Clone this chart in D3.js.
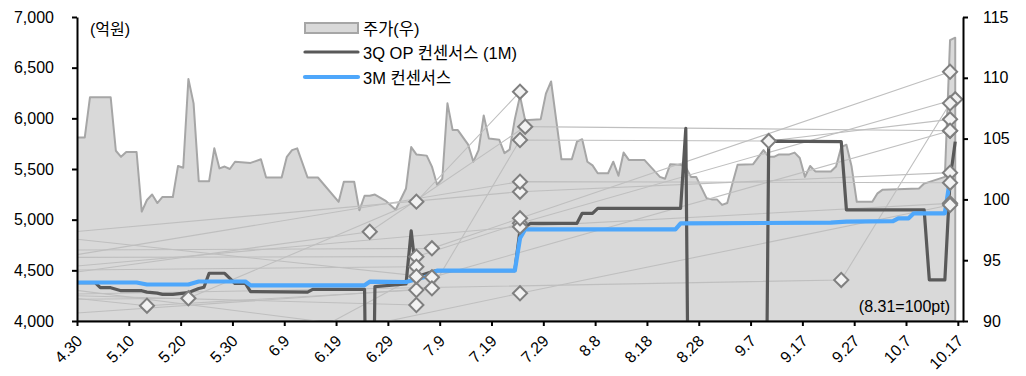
<!DOCTYPE html>
<html><head><meta charset="utf-8">
<script src="https://cdn.jsdelivr.net/npm/d3@7"></script>
<style>
html,body{margin:0;padding:0;background:#fff;}
svg text{font-family: Arial, "Liberation Sans", "Noto Sans CJK KR", sans-serif; fill:#000;}
</style></head><body>
<svg id="chart" width="1026" height="376"></svg>
<script>
// ---------------- data ----------------
const xTickLabels = ["4.30","5.10","5.20","5.30","6.9","6.19","6.29","7.9","7.19","7.29","8.8","8.18","8.28","9.7","9.17","9.27","10.7","10.17"];
const leftTicks = [4000,4500,5000,5500,6000,6500,7000];
const rightTicks = [90,95,100,105,110,115];
const legendLabels = ["주가(우)","3Q OP 컨센서스 (1M)","3M 컨센서스"];
const unitLabel = "(억원)";
const noteLabel = "(8.31=100pt)";

// stock price index (right axis)
const priceSeries = [["4.29",105.1],["4.30",105.1],["5.1",105.1],["5.2",108.4],["5.6",108.4],["5.7",104.0],["5.8",103.5],["5.9",103.9],["5.11",103.9],["5.12",99.0],["5.13",99.95],["5.14",100.4],["5.15",99.7],["5.16",100.2],["5.18",100.2],["5.19",102.75],["5.20",102.6],["5.21",109.9],["5.22",107.9],["5.23",101.5],["5.25",101.5],["5.26",104.2],["5.27",102.55],["5.28",102.7],["5.29",102.5],["5.30",103.1],["6.2",103.0],["6.4",103.3],["6.5",101.8],["6.8",101.8],["6.9",103.5],["6.10",104.05],["6.11",104.2],["6.13",101.8],["6.15",101.8],["6.19",99.8],["6.20",101.45],["6.22",101.45],["6.23",99.1],["6.24",100.3],["6.25",100.3],["6.26",100.4],["6.28",99.9],["6.30",99.15],["7.2",100.9],["7.3",104.3],["7.4",103.7],["7.6",103.6],["7.7",102.7],["7.8",101.2],["7.9",101.7],["7.10",107.9],["7.11",105.7],["7.12",105.7],["7.14",104.5],["7.15",103.1],["7.16",104.05],["7.17",106.9],["7.18",105.0],["7.20",104.9],["7.21",103.8],["7.22",104.1],["7.23",106.6],["7.24",108.5],["7.25",106.5],["7.28",106.6],["7.29",108.7],["7.30",109.7],["8.1",103.3],["8.3",103.3],["8.4",104.75],["8.5",104.95],["8.6",103.1],["8.7",102.8],["8.8",102.15],["8.10",102.15],["8.11",103.1],["8.12",101.95],["8.13",103.85],["8.14",103.25],["8.17",103.25],["8.20",101.85],["8.21",101.7],["8.22",102.9],["8.24",102.85],["8.25",102.65],["8.26",101.85],["8.27",101.85],["8.29",100.1],["8.30",100.0],["8.31",100.0],["9.1",99.55],["9.2",99.7],["9.3",101.3],["9.4",102.85],["9.7",102.9],["9.9",104.05],["9.10",103.5],["9.11",103.5],["9.12",103.7],["9.14",103.7],["9.15",103.85],["9.16",103.4],["9.17",101.85],["9.18",102.75],["9.19",102.3],["9.22",102.3],["9.23",102.7],["9.24",104.3],["9.25",104.5],["9.26",102.7],["9.27",99.8],["9.30",99.8],["10.1",100.5],["10.2",100.8],["10.9",100.9],["10.10",101.3],["10.14",101.85],["10.15",113.1],["10.16",113.3]];

// 3Q OP consensus (1M), 억원
const opSeries = [["4.29",4378],["5.3",4378],["5.4",4329],["5.6",4329],["5.8",4299],["5.12",4299],["5.13",4285],["5.15",4275],["5.16",4263],["5.18",4263],["5.21",4280],["5.22",4300],["5.23",4320],["5.24",4333],["5.25",4471],["5.28",4471],["5.29",4420],["5.30",4370],["6.1",4370],["6.2",4290],["6.13",4285],["6.14",4313],["6.24",4313],["6.25",0],["6.26",4340],["7.2",4365],["7.3",4890],["7.4",4437],["7.7",4487],["7.8",4497],["7.23",4497],["7.24",4900],["7.26",4964],["8.4",4964],["8.5",5063],["8.7",5063],["8.8",5112],["8.24",5112],["8.25",5900],["8.26",0],["9.9",0],["9.10",5776],["9.24",5770],["9.25",5096],["10.10",5096],["10.11",4405],["10.14",4405],["10.15",5392],["10.16",5770]];

// 3M consensus, 억원
const cons3mSeries = [["4.29",4380],["5.11",4380],["5.13",4360],["5.21",4360],["5.23",4390],["6.1",4390],["6.2",4352],["6.24",4352],["6.25",4388],["7.2",4385],["7.6",4440],["7.8",4497],["7.23",4497],["7.24",4816],["7.25",4905],["8.23",4905],["8.24",4964],["9.22",4970],["9.25",4980],["10.4",4985],["10.5",5013],["10.7",5013],["10.8",5063],["10.14",5063],["10.15",5400]];

// individual broker estimates (previous -> revised), 억원
const brokerA = [["4.29",4881],["7.24",5276],["10.15",5464]];
const brokerB = [["4.29",4809],["7.7",4431],["10.15",5878]];
const brokerC = [["4.29",4651],["7.24",5375],["10.15",5365]];
const brokerD = [["4.29",4628],["7.4",4635],["7.24",4964],["10.16",6188]];
const brokerE = [["4.29",4503],["7.4",4536]];
const brokerF = [["4.29",4224],["5.13",4151],["7.4",4306]];
const brokerG = [["4.29",4306],["6.30",3900]];
const brokerH = [["4.29",4077],["7.7",4322],["7.24",5786],["9.10",5776],["10.15",5990]];
const brokerI = [["4.29",4266],["9.24",4405],["10.15",6148]];
const brokerJ = [["4.29",4214],["5.21",4224],["7.4",5178],["7.24",6263]];
const brokerK = [["4.29",4480],["6.25",4881],["7.25",5918],["10.15",5878]];
const brokerM = [["4.29",4540],["7.24",4931],["10.15",5161]];
const brokerN = [["4.29",4700],["7.7",4717],["7.24",5013],["10.15",6460]];
const brokerO = [["6.10",3800],["7.24",4273],["10.15",5145]];
const brokerQ = [["4.29",4250],["7.4",4158]];
const brokerS = [["6.10",3780],["7.4",4440]];
const brokers = [brokerA,brokerB,brokerC,brokerD,brokerE,brokerF,brokerG,brokerH,brokerI,brokerJ,brokerK,brokerM,brokerN,brokerO,brokerQ,brokerS];

// ---------------- drawing ----------------
const parse = s => { const [m,d] = s.split('.').map(Number); return new Date(Date.UTC(2024, m-1, d)); };
const svg = d3.select("#chart");
const plot = {left:77, right:963, top:17, bottom:321};

const x = d3.scaleUtc().domain([parse("4.30"), parse("10.18")]).range([plot.left, plot.right]);
const halfDay = (x(parse("5.1")) - x(parse("4.30"))) / 2;
const xp = s => x(parse(s)) + halfDay;
const yL = d3.scaleLinear().domain([leftTicks[0], leftTicks[leftTicks.length-1]]).range([plot.bottom, plot.top]);
const yR = d3.scaleLinear().domain([rightTicks[0], rightTicks[rightTicks.length-1]]).range([plot.bottom, plot.top]);

svg.append("clipPath").attr("id","clip").append("rect")
  .attr("x",plot.left).attr("y",plot.top).attr("width",plot.right-plot.left).attr("height",plot.bottom-plot.top);

const g = svg.append("g").attr("clip-path","url(#clip)");

// area
const area = d3.area().x(d=>xp(d[0])).y0(yR(rightTicks[0])).y1(d=>yR(d[1]));
g.append("path").datum(priceSeries).attr("d",area)
  .attr("fill","#d9d9d9").attr("stroke","#a6a6a6").attr("stroke-width",2).attr("stroke-linejoin","round");

// broker connector lines
const lineL = d3.line().x(d=>xp(d[0])).y(d=>yL(d[1]));
g.selectAll("path.broker").data(brokers).join("path").attr("class","broker")
  .attr("d",lineL).attr("fill","none").attr("stroke","#bfbfbf").attr("stroke-width",1.1);

// OP consensus 1M
g.append("path").datum(opSeries).attr("d",lineL)
  .attr("fill","none").attr("stroke","#595959").attr("stroke-width",3.2).attr("stroke-linejoin","round");
// 3M consensus
g.append("path").datum(cons3mSeries).attr("d",lineL)
  .attr("fill","none").attr("stroke","#4ea7fb").attr("stroke-width",4.2).attr("stroke-linejoin","round");

// diamonds
const start = parse("4.30");
const pts = [];
brokers.forEach(b => b.forEach(p => { if (parse(p[0]) >= start && p[1] >= leftTicks[0] && p[1] <= leftTicks[leftTicks.length-1]) pts.push(p); }));
svg.selectAll("path.dia").data(pts).join("path").attr("class","dia")
  .attr("d", d3.symbol().type(d3.symbolSquare).size(100))
  .attr("transform", d => `translate(${xp(d[0])},${yL(d[1])}) rotate(45)`)
  .attr("fill","#f2f2f2").attr("stroke","#7f7f7f").attr("stroke-width",2);

// axes
const fs = "16px";
const axL = svg.append("g").attr("transform",`translate(${plot.left},0)`)
  .call(d3.axisLeft(yL).tickValues(leftTicks).tickFormat(d3.format(",")).tickSize(5).tickSizeOuter(0).tickPadding(18));
const axR = svg.append("g").attr("transform",`translate(${plot.right},0)`)
  .call(d3.axisRight(yR).tickValues(rightTicks).tickSize(5).tickSizeOuter(0).tickPadding(15));
const axB = svg.append("g").attr("transform",`translate(0,${plot.bottom})`)
  .call(d3.axisBottom(x).tickValues(xTickLabels.map(parse)).tickFormat((d,i)=>xTickLabels[i]).tickSize(5).tickSizeOuter(0));
[axL,axR,axB].forEach(a=>{
  a.selectAll("path.domain,line").attr("stroke","#000").attr("stroke-width",2);
  a.selectAll("text").style("font-size",fs).attr("fill","#000");
});
axB.selectAll("text").attr("y",0).attr("x",0).attr("dy",null)
  .attr("text-anchor","end").attr("dominant-baseline","central")
  .attr("transform","translate(2,17) rotate(-45)");

// labels
svg.append("text").attr("x",90).attr("y",29).attr("dominant-baseline","central").style("font-size",fs).text(unitLabel);
svg.append("text").attr("x",950).attr("y",306).attr("text-anchor","end").attr("dominant-baseline","central").style("font-size",fs).text(noteLabel);

// legend
const lg = svg.append("g");
const lx0 = 305, lx1 = 358, ly = [28, 52, 77];
lg.append("rect").attr("x",lx0).attr("y",ly[0]-5).attr("width",lx1-lx0).attr("height",10)
  .attr("fill","#d9d9d9").attr("stroke","#a6a6a6").attr("stroke-width",2);
lg.append("line").attr("x1",lx0).attr("x2",lx1).attr("y1",ly[1]).attr("y2",ly[1]).attr("stroke","#595959").attr("stroke-width",3.2).attr("stroke-linecap","round");
lg.append("line").attr("x1",lx0).attr("x2",lx1).attr("y1",ly[2]).attr("y2",ly[2]).attr("stroke","#4ea7fb").attr("stroke-width",4.2).attr("stroke-linecap","round");
legendLabels.forEach((t,i)=>{
  lg.append("text").attr("x",363).attr("y",ly[i]+1).attr("dominant-baseline","central").style("font-size","16.5px").text(t);
});
</script>
</body></html>
